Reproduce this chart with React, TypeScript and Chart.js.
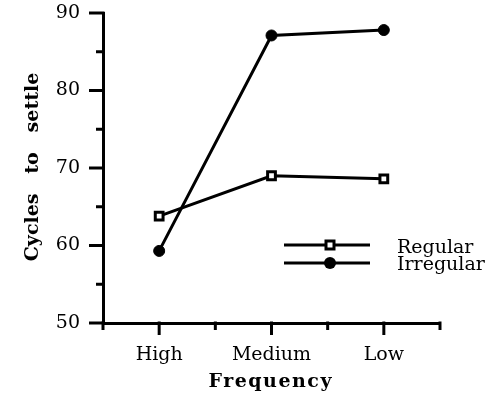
import React, { useEffect, useRef } from 'react';
import { Chart, registerables } from 'chart.js';

Chart.register(...registerables);

const categories = ['High', 'Medium', 'Low'];
const regular = [63.8, 69.0, 68.6];
const irregular = [59.3, 87.1, 87.8];
const yMin = 50;
const yMax = 90;
const yMajorStep = 10;
const yMinorStep = 5;
const seriesNames = ['Regular', 'Irregular'];
const xTitle = 'Frequency';
const yTitle = 'Cycles   to   settle';

const catPos = (i: number) => i * 2 + 1;
const xMax = categories.length * 2;

const decor = {
  id: 'decor',
  afterDraw(chart: any) {
    const { ctx, chartArea, scales } = chart;
    const xs = scales.x;
    const ys = scales.y;
    ctx.save();
    ctx.strokeStyle = '#000';
    ctx.fillStyle = '#000';
    ctx.lineWidth = 3;
    ctx.lineCap = 'butt';
    // y ticks
    for (let v = yMin; v <= yMax; v += yMinorStep) {
      const py = ys.getPixelForValue(v);
      const len = v % yMajorStep === 0 ? 14 : 7;
      ctx.beginPath();
      ctx.moveTo(chartArea.left - len, py);
      ctx.lineTo(chartArea.left + 1.5, py);
      ctx.stroke();
    }
    // x ticks
    for (let v = 0; v <= xMax; v++) {
      const px = xs.getPixelForValue(v);
      const len = v % 2 === 1 ? 12 : 7;
      ctx.beginPath();
      ctx.moveTo(px, chartArea.bottom - 1.5);
      ctx.lineTo(px, chartArea.bottom + len);
      ctx.stroke();
    }

    // legend
    const lx0 = 284, lx1 = 370, mx = 330;
    const ly = [245, 263];
    ctx.lineWidth = 3;
    ly.forEach((y) => {
      ctx.beginPath();
      ctx.moveTo(lx0, y);
      ctx.lineTo(lx1, y);
      ctx.stroke();
    });
    ctx.fillStyle = '#fff';
    ctx.fillRect(mx - 4, ly[0] - 4, 8, 8);
    ctx.strokeRect(mx - 4, ly[0] - 4, 8, 8);
    ctx.fillStyle = '#000';
    ctx.beginPath();
    ctx.arc(mx, ly[1], 6, 0, Math.PI * 2);
    ctx.fill();

    ctx.font = '19px "DejaVu Serif"';
    ctx.textAlign = 'left';
    ctx.textBaseline = 'alphabetic';
    ctx.fillText(seriesNames[0], 397, 253);
    ctx.fillText(seriesNames[1], 397, 270);

    // x title
    ctx.font = 'bold 19px "DejaVu Serif"';
    (ctx as any).letterSpacing = '1.5px';
    const w = ctx.measureText(xTitle).width - 1.5;
    ctx.fillText(xTitle, 270 - w / 2, 387);

    // y title
    ctx.save();
    ctx.font = 'bold 19px "DejaVu Serif"';
    (ctx as any).letterSpacing = '0px';
    const wy = ctx.measureText(yTitle).width;
    ctx.translate(38, 167);
    ctx.rotate(-Math.PI / 2);
    ctx.fillText(yTitle, -wy / 2, 0);
    ctx.restore();

    ctx.restore();
  },
};

export default function App() {
  const ref = useRef<HTMLCanvasElement | null>(null);
  useEffect(() => {
    if (!ref.current) return;
    const tickFont = { family: 'DejaVu Serif', size: 19 };
    const chart = new Chart(ref.current, {
      type: 'line',
      data: {
        datasets: [
          {
            label: seriesNames[0],
            data: categories.map((c, i) => ({ x: catPos(i), y: regular[i] })),
            borderColor: '#000',
            borderWidth: 3,
            pointStyle: 'rect',
            pointRadius: 5.5,
            pointBorderWidth: 3,
            pointBackgroundColor: '#fff',
            pointBorderColor: '#000',
            tension: 0,
          },
          {
            label: seriesNames[1],
            data: categories.map((c, i) => ({ x: catPos(i), y: irregular[i] })),
            borderColor: '#000',
            borderWidth: 3,
            pointStyle: 'circle',
            pointRadius: 5.5,
            pointBorderWidth: 1,
            pointBackgroundColor: '#000',
            pointBorderColor: '#000',
            tension: 0,
          },
        ],
      },
      options: {
        animation: false,
        responsive: true,
        maintainAspectRatio: false,
        layout: { padding: { top: 13, right: 48, left: 0, bottom: 0 } },
        plugins: {
          legend: { display: false },
          tooltip: { enabled: false },
        },
        scales: {
          x: {
            type: 'linear',
            min: 0,
            max: xMax,
            grid: { display: false, drawTicks: false, tickLength: 0 },
            border: { display: true, color: '#000', width: 3 },
            ticks: {
              stepSize: 1,
              autoSkip: false,
              maxRotation: 0,
              padding: 21,
              color: '#000',
              font: tickFont,
              callback: (v: any) => (v % 2 === 1 ? categories[(v - 1) / 2] : ''),
            },
            afterFit: (s: any) => {
              s.height = 74;
              s.paddingLeft = 0;
              s.paddingRight = 0;
            },
          },
          y: {
            min: yMin,
            max: yMax,
            grid: { display: false, drawTicks: false, tickLength: 0 },
            border: { display: true, color: '#000', width: 3 },
            ticks: {
              stepSize: yMajorStep,
              padding: 23,
              color: '#000',
              font: tickFont,
            },
            afterFit: (s: any) => {
              s.width = 103;
              s.paddingTop = 0;
              s.paddingBottom = 0;
            },
          },
        },
      },
      plugins: [decor],
    });
    return () => chart.destroy();
  }, []);
  return (
    <div style={{ position: 'fixed', left: 0, top: 0, width: 488, height: 397, background: '#fff' }}>
      <canvas ref={ref} />
    </div>
  );
}
